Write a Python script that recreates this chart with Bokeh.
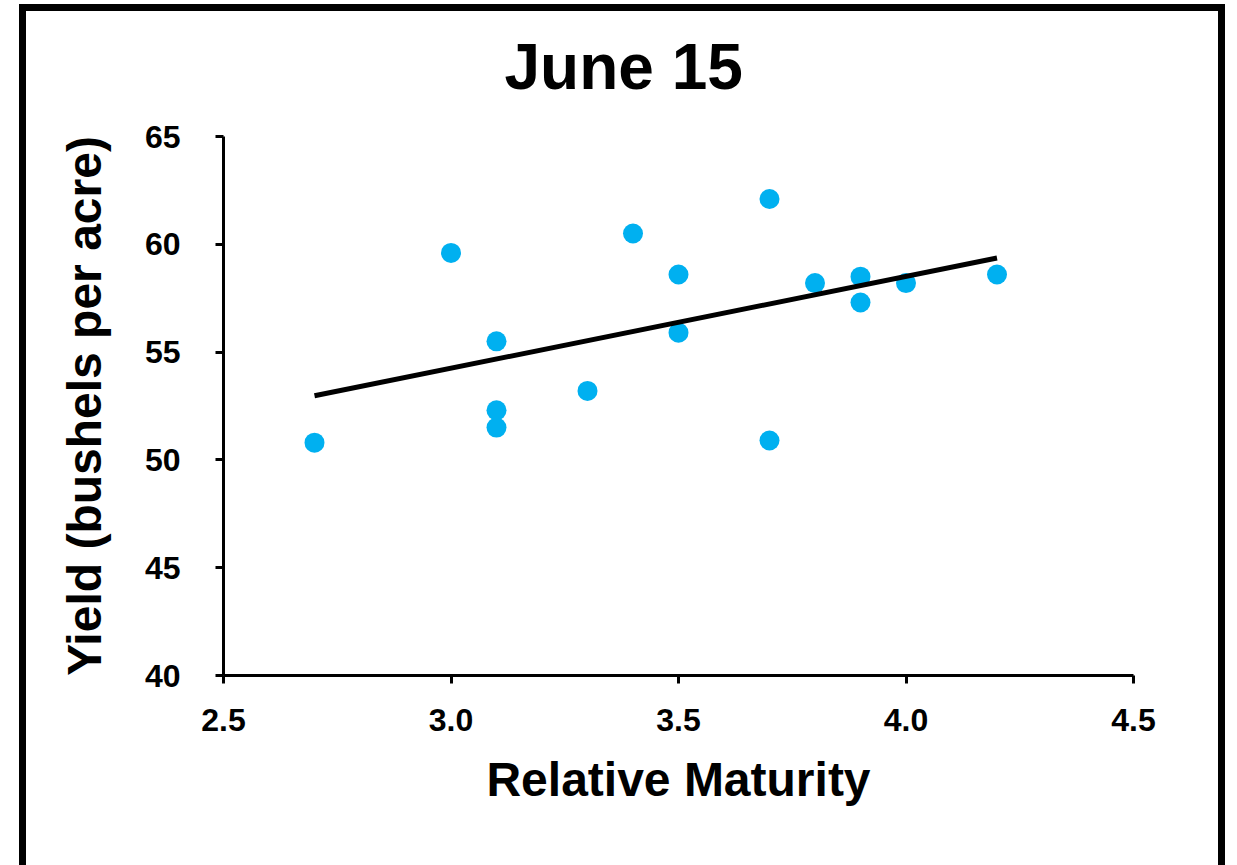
import numpy as np
from bokeh.plotting import figure
from bokeh.models import Range1d, FixedTicker, NumeralTickFormatter, ColumnDataSource
from bokeh.embed import file_html
from bokeh.resources import INLINE

# ---- data ----
maturity = [2.7, 3.0, 3.1, 3.1, 3.1, 3.3, 3.4, 3.5, 3.5, 3.7, 3.7, 3.8, 3.9, 3.9, 4.0, 4.2]
yield_bu = [50.8, 59.6, 55.5, 52.3, 51.5, 53.2, 60.5, 58.6, 55.9, 62.1, 50.9, 58.2, 58.5, 57.3, 58.2, 58.6]
x_ticks = [2.5, 3.0, 3.5, 4.0, 4.5]
y_ticks = [40, 45, 50, 55, 60, 65]
title_text = "June 15"
x_label = "Relative Maturity"
y_label = "Yield (bushels per acre)"

FONT = "Liberation Sans"

# linear trend line (least squares) over data extent
slope, intercept = np.polyfit(maturity, yield_bu, 1)
trend_x = [min(maturity), max(maturity)]
trend_y = [slope * v + intercept for v in trend_x]

p = figure(
    width=1206, height=874,
    x_range=Range1d(2.5, 4.5), y_range=Range1d(40, 65),
    output_backend="svg", toolbar_location=None,
    min_border_left=204, min_border_right=92,
    min_border_top=145, min_border_bottom=190,
)
# chart-area frame (top, left and right black edges) painted as the host background
p.styles = {
    "margin-left": "19px",
    "margin-top": "-9px",
    "overflow": "hidden",
    "background": (
        "linear-gradient(#000,#000) 0 13px / 100% 7px no-repeat, "
        "linear-gradient(#000,#000) 0 13px / 7px 100% no-repeat, "
        "linear-gradient(#000,#000) 100% 13px / 7px 100% no-repeat, "
        "#fff"
    ),
}

p.outline_line_color = None
p.xgrid.visible = False
p.ygrid.visible = False
p.background_fill_color = "white"
p.border_fill_color = None

# chart title
p.title.text = title_text
p.title.text_font = FONT
p.title.text_font_style = "bold"
p.title.text_font_size = "64px"
p.title.text_color = "black"
p.title.align = "left"
p.title.offset = 281
p.title.standoff = 68

for ax in (p.xaxis[0], p.yaxis[0]):
    ax.axis_line_width = 3
    ax.axis_line_color = "black"
    ax.major_tick_line_width = 3
    ax.major_tick_line_color = "black"
    ax.major_tick_out = 8
    ax.major_tick_in = 0
    ax.minor_tick_line_color = None
    ax.major_label_text_font = FONT
    ax.major_label_text_font_style = "bold"
    ax.major_label_text_font_size = "32px"
    ax.major_label_text_color = "black"
    ax.axis_label_text_font = FONT
    ax.axis_label_text_font_style = "bold"
    ax.axis_label_text_font_size = "48px"
    ax.axis_label_text_color = "black"

p.xaxis.ticker = FixedTicker(ticks=x_ticks)
p.xaxis.formatter = NumeralTickFormatter(format="0.0")
p.xaxis.axis_label = x_label
p.xaxis.major_label_standoff = 25
p.xaxis.axis_label_standoff = 19

p.yaxis.ticker = FixedTicker(ticks=y_ticks)
p.yaxis.formatter = NumeralTickFormatter(format="0")
p.yaxis.axis_label = y_label
p.yaxis.major_label_standoff = 35
p.yaxis.axis_label_standoff = 31

src = ColumnDataSource(dict(x=maturity, y=yield_bu))
p.scatter("x", "y", source=src, size=20, fill_color="#00B0F0", line_color=None, marker="circle")
p.line(trend_x, trend_y, line_color="black", line_width=5)

open("out.html", "w").write(file_html(p, INLINE))
